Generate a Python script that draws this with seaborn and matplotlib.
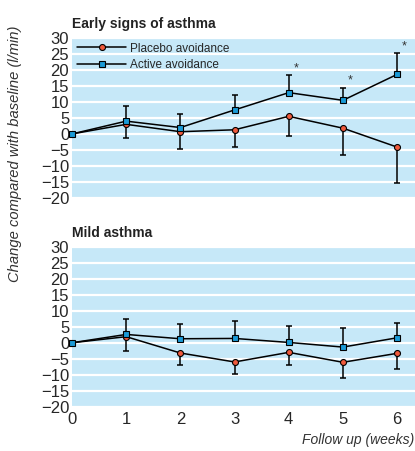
import numpy as np
import pandas as pd
import matplotlib
matplotlib.use("Agg")
import matplotlib.pyplot as plt
import seaborn as sns
from matplotlib.lines import Line2D

weeks = [0, 1, 2, 3, 4, 5, 6]

# Early signs of asthma
early_placebo = [0, 3.0, 0.7, 1.3, 5.5, 1.8, -4.1]
early_placebo_low = [0, -1.2, -4.6, -4.1, -0.7, -6.6, -15.4]
early_active = [0, 4.0, 2.0, 7.5, 12.9, 10.5, 18.6]
early_active_high = [0, 8.8, 6.1, 12.3, 18.4, 14.5, 25.4]
early_signif = [4, 5, 6]

# Mild asthma
mild_placebo = [0, 1.9, -3.2, -6.0, -3.0, -6.1, -3.3]
mild_placebo_low = [0, -2.6, -7.1, -9.7, -7.1, -10.9, -8.2]
mild_active = [0, 2.6, 1.25, 1.35, 0.1, -1.35, 1.55]
mild_active_high = [0, 7.3, 6.0, 6.9, 5.1, 4.7, 6.25]

y_ticks = [30, 25, 20, 15, 10, 5, 0, -5, -10, -15, -20]

sns.set_theme(style="white")
plt.rcParams['font.family'] = ['Liberation Sans', 'DejaVu Sans']

bg = "#c6e8f8"
c_placebo = "#f05a3c"
c_active = "#1a9ad6"
msize = 4.3


def draw_panel(ax, placebo, placebo_low, active, active_high, title):
    ax.set_facecolor(bg)
    for y in y_ticks:
        ax.axhline(y, color="white", lw=1.6, zorder=1)
    x = np.array(weeks)
    p = np.array(placebo)
    a = np.array(active)
    ax.errorbar(x[1:], p[1:], yerr=[p[1:] - np.array(placebo_low)[1:], np.zeros(6)],
                fmt="none", ecolor="black", elinewidth=1.1, capsize=2.5, capthick=1.1, zorder=2)
    ax.errorbar(x[1:], a[1:], yerr=[np.zeros(6), np.array(active_high)[1:] - a[1:]],
                fmt="none", ecolor="black", elinewidth=1.1, capsize=2.5, capthick=1.1, zorder=2)
    df = pd.DataFrame({"week": weeks + weeks,
                       "value": list(placebo) + list(active),
                       "group": ["Placebo avoidance"] * 7 + ["Active avoidance"] * 7})
    sns.lineplot(data=df, x="week", y="value", hue="group", style="group",
                 markers={"Placebo avoidance": "o", "Active avoidance": "s"}, dashes=False,
                 palette={"Placebo avoidance": "black", "Active avoidance": "black"},
                 linewidth=1.1, markersize=msize, legend=False, ax=ax, zorder=3)
    # colour markers
    for line, col in zip(ax.lines[-2:], [c_placebo, c_active]):
        line.set_markerfacecolor(col)
        line.set_markeredgecolor("black")
        line.set_markeredgewidth(0.8)
        line.set_clip_on(False)
    ax.set_xlim(0, 6.33)
    ax.set_ylim(-20, 30)
    ax.set_yticks(y_ticks)
    ax.set_xticks(weeks)
    ax.tick_params(axis="y", length=0, labelsize=12, pad=2)
    ax.tick_params(axis="x", direction="in", length=3, width=1.2, color="white",
                   labelsize=12, pad=4)
    for s in ax.spines.values():
        s.set_visible(False)
    ax.set_xlabel("")
    ax.set_ylabel("")
    ax.text(0, 1.04, title, transform=ax.transAxes, fontsize=10, fontweight="bold",
            color="#222222", ha="left", va="bottom")


fig = plt.figure(figsize=(4.15, 4.51), dpi=100)
ax1 = fig.add_axes([0.1735, 0.561, 0.8265, 0.355])
ax2 = fig.add_axes([0.1735, 0.098, 0.8265, 0.355])

draw_panel(ax1, early_placebo, early_placebo_low, early_active, early_active_high,
           "Early signs of asthma")
draw_panel(ax2, mild_placebo, mild_placebo_low, mild_active, mild_active_high,
           "Mild asthma")
ax1.set_xticklabels([])

for w in early_signif:
    ax1.text(w + 0.09, early_active_high[w] + 0.2, "*", fontsize=9, color="#333333",
             ha="left", va="bottom")

handles = [
    Line2D([], [], color="black", lw=1.1, marker="o", markersize=msize,
           markerfacecolor=c_placebo, markeredgecolor="black", markeredgewidth=0.8),
    Line2D([], [], color="black", lw=1.1, marker="s", markersize=msize,
           markerfacecolor=c_active, markeredgecolor="black", markeredgewidth=0.8),
]
ax1.legend(handles, ["Placebo avoidance", "Active avoidance"], loc="upper left",
           frameon=False, fontsize=8.5, handlelength=4.2, handletextpad=0.35,
           labelspacing=0.35, borderaxespad=0.0, bbox_to_anchor=(0.0, 1.0))

fig.text(0.036, 0.66, "Change compared with baseline (l/min)", rotation=90,
         fontsize=10.6, style="italic", color="#333333", ha="center", va="center")
fig.text(0.998, 0.025, "Follow up (weeks)", fontsize=10, style="italic",
         color="#333333", ha="right", va="center")

fig.savefig("out.png", dpi=100)
